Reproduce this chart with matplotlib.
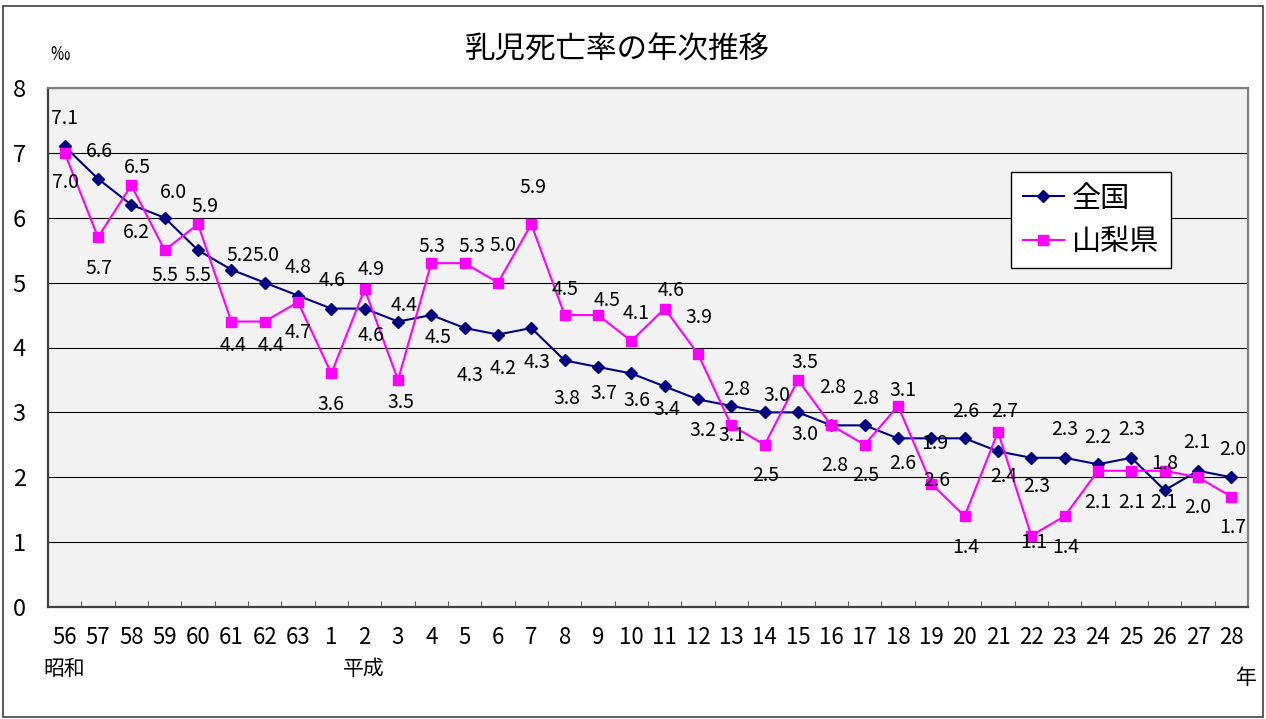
"""乳児死亡率の年次推移 -- 全国 vs 山梨県, 昭和56 .. 平成28 (Excel-style line chart)."""

import numpy as np
import matplotlib
matplotlib.use("Agg")
import matplotlib.pyplot as plt
from matplotlib.patches import Rectangle

plt.rcParams["font.family"] = ["Noto Sans CJK JP", "DejaVu Sans"]

years = ["56", "57", "58", "59", "60", "61", "62", "63",
         "1", "2", "3", "4", "5", "6", "7", "8", "9", "10", "11", "12", "13", "14",
         "15", "16", "17", "18", "19", "20", "21", "22", "23", "24", "25", "26", "27", "28"]
zenkoku = [7.1, 6.6, 6.2, 6.0, 5.5, 5.2, 5.0, 4.8,
           4.6, 4.6, 4.4, 4.5, 4.3, 4.2, 4.3, 3.8, 3.7, 3.6, 3.4, 3.2, 3.1, 3.0,
           3.0, 2.8, 2.8, 2.6, 2.6, 2.6, 2.4, 2.3, 2.3, 2.2, 2.3, 1.8, 2.1, 2.0]
yamanashi = [7.0, 5.7, 6.5, 5.5, 5.9, 4.4, 4.4, 4.7,
             3.6, 4.9, 3.5, 5.3, 5.3, 5.0, 5.9, 4.5, 4.5, 4.1, 4.6, 3.9, 2.8, 2.5,
             3.5, 2.8, 2.5, 3.1, 1.9, 1.4, 2.7, 1.1, 1.4, 2.1, 2.1, 2.1, 2.0, 1.7]

# data-label offsets in pixels (dx, dy down)
off_z = [(0, -28), (1, -27), (5, 28), (9, -25), (0, 25), (9, -14), (1, -27), (0, -28),
         (1, -28), (6, 27), (6, -16), (7, 22), (5, 47), (5, 34), (6, 34), (2, 38),
         (6, 27), (6, 27), (2, 23), (5, 31), (1, 30), (12, -17), (7, 22), (1, -38),
         (1, -27), (5, 25), (5, 42), (1, -27), (6, 25), (5, 29), (0, -28), (0, -27),
         (0, -28), (0, -27), (-1, -28), (1, -28)]
off_y = [(1, 30), (1, 31), (6, -18), (0, 25), (7, -18), (2, 24), (6, 24), (0, 30),
         (0, 31), (6, -20), (3, 23), (1, -17), (7, -17), (5, -37), (2, -37), (0, -26),
         (9, -15), (5, -28), (6, -18), (1, -36), (5, -36), (1, 31), (7, -17), (3, 40),
         (1, 31), (5, -15), (3, -40), (1, 31), (7, -20), (2, 7), (1, 31), (0, 32),
         (0, 32), (-1, 32), (0, 30), (1, 31)]

W, H = 1266, 719
fig = plt.figure(figsize=(W / 100, H / 100), dpi=100)
ax = fig.add_axes([48 / W, 1 - 607 / H, 1200 / W, 519 / H])
ax.set_facecolor("#F2F2F2")

x = np.arange(len(years))
ax.plot(x, zenkoku, color="#000080", lw=1.5, marker="D", ms=6.5, label="全国", zorder=3)
ax.plot(x, yamanashi, color="#FF00FF", lw=1.5, marker="s", ms=7.5, label="山梨県", zorder=4)

for vals, offs in ((zenkoku, off_z), (yamanashi, off_y)):
    for i, (v, (dx, dy)) in enumerate(zip(vals, offs)):
        ax.annotate(f"{v:.1f}", (i, v), xytext=(dx, -dy), textcoords="offset pixels",
                    ha="center", va="center", fontsize=14, zorder=5)

ax.set_xlim(-0.5, len(years) - 0.5)
ax.set_ylim(0, 8)
ax.set_yticks(range(0, 9))
ax.yaxis.grid(True, color="black", lw=0.8)
ax.set_axisbelow(True)
ax.tick_params(axis="y", length=0, pad=16, labelsize=17)
ax.set_xticks(x)
ax.set_xticklabels(years)
ax.tick_params(axis="x", which="major", length=0, pad=14, labelsize=16)
ax.set_xticks(np.arange(-0.5, len(years), 1.0), minor=True)
ax.tick_params(axis="x", which="minor", direction="in", length=4.5, color="#404040")
for s in ("left", "bottom"):
    ax.spines[s].set_color("#404040")
    ax.spines[s].set_linewidth(1.6)
for s in ("top", "right"):
    ax.spines[s].set_color("#808080")
    ax.spines[s].set_linewidth(1.6)

leg = ax.legend(loc="upper left", bbox_to_anchor=((1011 - 48) / 1200, 1 - (172 - 88) / 519),
                fontsize=21, frameon=True, fancybox=False, edgecolor="black",
                framealpha=1, handlelength=1.4, handletextpad=0.3, labelspacing=0.45,
                borderpad=0.4, borderaxespad=0)
leg.get_frame().set_linewidth(1.0)

fig.text(617 / W, 1 - 50 / H, "乳児死亡率の年次推移", ha="center", va="center", fontsize=22)
fig.text(60 / W, 1 - 55 / H, "‰", ha="center", va="center", fontsize=14)
fig.text(64 / W, 1 - 669 / H, "昭和", ha="center", va="center", fontsize=15)
fig.text(364 / W, 1 - 669 / H, "平成", ha="center", va="center", fontsize=15)
fig.text(1246 / W, 1 - 678 / H, "年", ha="center", va="center", fontsize=15)
fig.patches.append(Rectangle((3 / W, 2 / H), 1260 / W, 711 / H, transform=fig.transFigure,
                             fill=False, edgecolor="#404040", lw=1.2))

fig.savefig("out.png", dpi=100)
